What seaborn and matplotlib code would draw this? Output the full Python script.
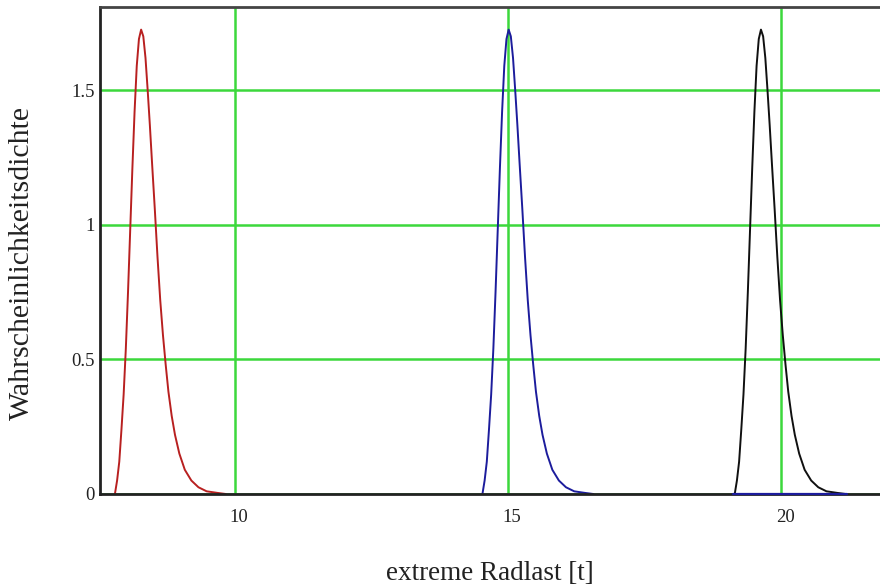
import matplotlib
matplotlib.use("Agg")
import matplotlib.pyplot as plt
import matplotlib.transforms as mtransforms
import pandas as pd
import seaborn as sns

# Probability density of the extreme wheel load (same shape for all three cases)
dichte = [0.0, 0.05, 0.12, 0.24, 0.37, 0.54, 0.75, 0.98, 1.21, 1.42, 1.59, 1.69, 1.725,
          1.70, 1.62, 1.50, 1.37, 1.23, 1.06, 0.88, 0.72, 0.59, 0.48, 0.38, 0.29, 0.22,
          0.15, 0.09, 0.05, 0.025, 0.01, 0.004, 0.0]

red_x = [7.80, 7.84, 7.88, 7.92, 7.96, 8.00, 8.04, 8.08, 8.12, 8.16, 8.20, 8.24, 8.28,
         8.32, 8.36, 8.40, 8.44, 8.48, 8.53, 8.58, 8.63, 8.68, 8.73, 8.78, 8.84, 8.90,
         8.98, 9.08, 9.20, 9.33, 9.48, 9.68, 9.83]
blue_x = [14.53, 14.57, 14.61, 14.65, 14.69, 14.73, 14.77, 14.81, 14.85, 14.89, 14.93,
          14.97, 15.01, 15.05, 15.09, 15.13, 15.17, 15.21, 15.26, 15.31, 15.36, 15.41,
          15.46, 15.51, 15.57, 15.63, 15.71, 15.81, 15.93, 16.06, 16.21, 16.41, 16.56]
black_x = [19.15, 19.19, 19.23, 19.27, 19.31, 19.35, 19.39, 19.43, 19.47, 19.51, 19.55,
           19.59, 19.63, 19.67, 19.71, 19.75, 19.79, 19.83, 19.88, 19.93, 19.98, 20.03,
           20.08, 20.13, 20.19, 20.25, 20.33, 20.43, 20.55, 20.68, 20.83, 21.03, 21.18]

# zero-valued stretch of the blue case that shows along the axis under the black curve
blue_tail_x = [19.12, 21.20]
blue_tail_y = [0.0, 0.0]

x_ticks = [10, 15, 20]
y_ticks = [0, 0.5, 1, 1.5]
y_tick_labels = ["0", "0.5", "1", "1.5"]

curves = pd.concat([
    pd.DataFrame({"last": red_x, "dichte": dichte, "kurve": "rot"}),
    pd.DataFrame({"last": blue_x, "dichte": dichte, "kurve": "blau"}),
    pd.DataFrame({"last": black_x, "dichte": dichte, "kurve": "schwarz"}),
], ignore_index=True)
palette = {"rot": "#b82020", "blau": "#1c1c9c", "schwarz": "#101010"}

sns.set_theme(style="white")
plt.rcParams["font.family"] = ["Liberation Serif", "DejaVu Serif"]

fig = plt.figure(figsize=(8.8, 5.87), dpi=100)
ax = fig.add_axes([100 / 880, 93 / 587, 780 / 880, 487 / 587])

ax.grid(True, color="#3cd83c", linewidth=1.8, zorder=0)
ax.set_axisbelow(True)

sns.lineplot(data=curves, x="last", y="dichte", hue="kurve", palette=palette,
             estimator=None, sort=False, linewidth=1.4, legend=False, ax=ax, zorder=2)
sns.lineplot(x=blue_tail_x, y=blue_tail_y, color=palette["blau"], linewidth=1.6,
             estimator=None, sort=False, ax=ax, zorder=3, clip_on=False)

ax.set_xlim(7.527, 21.81)
ax.set_ylim(0, 1.809)
ax.set_xticks(x_ticks)
ax.set_xticklabels([str(t) for t in x_ticks])
ax.set_yticks(y_ticks)
ax.set_yticklabels(y_tick_labels)
ax.tick_params(axis="both", length=0, labelsize=13.5, colors="#222222")
ax.tick_params(axis="x", pad=11)
ax.tick_params(axis="y", pad=4)
shift = mtransforms.ScaledTranslation(4 / 100, 0, fig.dpi_scale_trans)
for lbl in ax.get_xticklabels():
    lbl.set_transform(lbl.get_transform() + shift)

for side in ["left", "bottom", "top"]:
    ax.spines[side].set_visible(True)
    ax.spines[side].set_color("#222222")
    ax.spines[side].set_linewidth(2.0)
ax.spines["top"].set_color("#444444")
ax.spines["right"].set_visible(False)

ax.set_xlabel("extreme Radlast [t]", fontsize=19.5, color="#222222", labelpad=25)
ax.set_ylabel("")
ax.text(-0.1, 0.474, "Wahrscheinlichkeitsdichte", transform=ax.transAxes, rotation=90,
        ha="center", va="center", fontsize=21.5, color="#222222")

fig.savefig("out.png", dpi=100)
